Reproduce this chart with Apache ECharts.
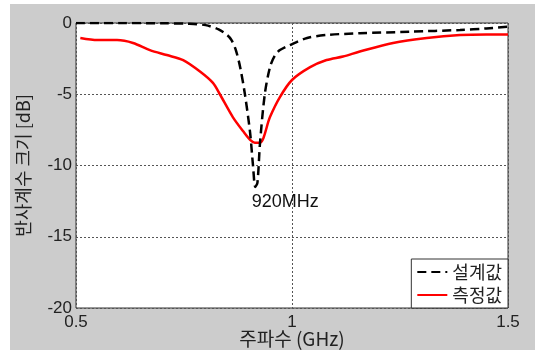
<!DOCTYPE html>
<html>
<head>
<meta charset="utf-8">
<script src="https://cdn.jsdelivr.net/npm/echarts@6/dist/echarts.min.js"></script>
<style>
  html, body { margin: 0; padding: 0; background: #fff; }
  #chart { width: 535px; height: 350px; }
</style>
</head>
<body>
<div id="chart"></div>
<script>
// 설계값 (design)
const designFreq = [0.5, 0.6, 0.7, 0.76, 0.8, 0.83, 0.85, 0.86, 0.87, 0.88, 0.891, 0.903, 0.91, 0.915, 0.92, 0.926, 0.937, 0.949, 0.96, 0.972, 0.995, 1.035, 1.08, 1.157, 1.273, 1.389, 1.45, 1.5];
const designDb = [0, 0, -0.02, -0.05, -0.15, -0.45, -0.85, -1.2, -1.9, -3.1, -5.0, -7.7, -10.1, -11.5, -11.2, -8.4, -5.0, -3.1, -2.3, -1.9, -1.55, -1.05, -0.84, -0.72, -0.61, -0.49, -0.38, -0.25];

// 측정값 (measured)
const measFreq = [0.51, 0.55, 0.595, 0.632, 0.671, 0.71, 0.748, 0.787, 0.817, 0.833, 0.863, 0.887, 0.903, 0.914, 0.926, 0.949, 0.972, 1.0, 1.042, 1.08, 1.118, 1.157, 1.234, 1.312, 1.389, 1.45, 1.5];
const measDb = [-1.05, -1.2, -1.2, -1.4, -1.9, -2.25, -2.6, -3.4, -4.2, -5.0, -6.6, -7.6, -8.2, -8.4, -8.4, -6.6, -5.2, -4.0, -3.1, -2.6, -2.35, -2.0, -1.4, -1.05, -0.84, -0.8, -0.8];

const resonance = [0.915, -11.5];
const seriesNames = ["설계값", "측정값"];

const numFont = "'Liberation Sans', Arial, sans-serif";
const krFont = "'Noto Sans CJK KR', sans-serif";

const chart = echarts.init(document.getElementById("chart"));
chart.setOption({
  backgroundColor: "#fff",
  animation: false,
  graphic: [
    {
      type: "rect",
      left: 10,
      top: 4,
      z: -10,
      shape: { width: 525, height: 346 },
      style: { fill: "#cccccc" },
    },
  ],
  grid: {
    left: 76,
    top: 23,
    width: 432,
    height: 285,
    outerBoundsMode: "none",
    show: true,
    backgroundColor: "#fff",
    borderColor: "#333",
    borderWidth: 1,
  },
  legend: {
    orient: "vertical",
    right: 27,
    bottom: 42,
    backgroundColor: "#fff",
    borderColor: "#333",
    borderWidth: 1,
    borderRadius: 0,
    padding: [4, 6, 4, 5],
    itemGap: 5,
    itemWidth: 30,
    itemHeight: 16,
    itemStyle: { color: "transparent", borderColor: "transparent", borderWidth: 0 },
    textStyle: { fontFamily: krFont, fontSize: 18, color: "#222" },
    data: seriesNames,
  },
  xAxis: {
    type: "value",
    min: 0.5,
    max: 1.5,
    interval: 0.5,
    name: "주파수 (GHz)",
    nameLocation: "middle",
    nameGap: 21,
    nameMoveOverlap: false,
    nameTextStyle: { fontFamily: krFont, fontSize: 19, color: "#222" },
    axisLine: { show: false },
    axisTick: { show: false },
    axisLabel: {
      fontFamily: numFont,
      fontSize: 17,
      color: "#222",
      margin: 6,
      formatter: (v) => String(v),
    },
    splitLine: { lineStyle: { type: [2, 2], color: "#555", width: 1 } },
  },
  yAxis: {
    type: "value",
    min: -20,
    max: 0,
    interval: 5,
    name: "반사계수 크기 [dB]",
    nameLocation: "middle",
    nameGap: 44,
    nameMoveOverlap: false,
    nameTextStyle: { fontFamily: krFont, fontSize: 18, color: "#222" },
    axisLine: { show: false },
    axisTick: { show: false },
    axisLabel: { fontFamily: numFont, fontSize: 17, color: "#222", margin: 4 },
    splitLine: { lineStyle: { type: [2, 2], color: "#555", width: 1 } },
  },
  series: [
    {
      name: seriesNames[0],
      type: "line",
      symbol: "none",
      smooth: 0.3,
      z: 3,
      lineStyle: { color: "#000", width: 2.5, type: [9, 5] },
      itemStyle: { color: "#000" },
      data: designFreq.map((f, i) => [f, designDb[i]]),
      markPoint: {
        symbol: "circle",
        symbolSize: 0,
        data: [{ coord: resonance }],
        label: {
          show: true,
          formatter: "920MHz",
          position: "bottom",
          distance: 0,
          offset: [30, 6],
          fontFamily: numFont,
          fontSize: 18,
          color: "#111",
        },
      },
    },
    {
      name: seriesNames[1],
      type: "line",
      symbol: "none",
      smooth: 0.3,
      z: 2,
      lineStyle: { color: "#f00", width: 2.5 },
      itemStyle: { color: "#f00" },
      data: measFreq.map((f, i) => [f, measDb[i]]),
    },
  ],
});
</script>
</body>
</html>
